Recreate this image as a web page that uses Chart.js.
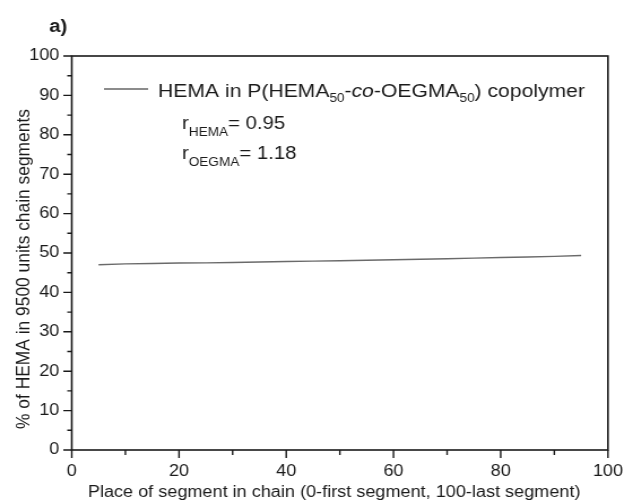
<!DOCTYPE html>
<html>
<head>
<meta charset="utf-8">
<script src="https://cdn.jsdelivr.net/npm/chart.js@4.4.1/dist/chart.umd.min.js"></script>
<style>
  html, body { margin: 0; padding: 0; background: #fff; overflow: hidden; }
  #wrap { position: absolute; left: 0; top: 0; width: 552px; height: 503px;
          transform: scaleX(1.1304); transform-origin: 0 0; }
  canvas { display: block; }
</style>
</head>
<body>
<div id="wrap"><canvas id="c" width="552" height="503"></canvas></div>
<script>
// ---- data ----
const segmentPlace = [5, 10, 15, 20, 25, 30, 35, 40, 45, 50, 55, 60, 65, 70, 75, 80, 85, 90, 95];
const hemaPercent  = [47.0, 47.25, 47.35, 47.45, 47.5, 47.6, 47.7, 47.85, 47.95, 48.05,
                      48.15, 48.3, 48.4, 48.55, 48.7, 48.85, 49.0, 49.15, 49.35];
const xTicks = [0, 20, 40, 60, 80, 100];
const yTicks = [0, 10, 20, 30, 40, 50, 60, 70, 80, 90, 100];
const xMinorTicks = [10, 30, 50, 70, 90];
const yMinorTicks = [5, 15, 25, 35, 45, 55, 65, 75, 85, 95];
const seriesLabel = 'HEMA in P(HEMA50-co-OEGMA50) copolymer';
const xTitle = 'Place of segment in chain (0-first segment, 100-last segment)';
const yTitle = '% of HEMA in 9500 units chain segments';
const panelLabel = 'a)';
const rHEMA = '0.95';
const rOEGMA = '1.18';

const FONT = '"Liberation Sans", Arial, Helvetica, sans-serif';
const INK = '#1a1a1a';

function drawRuns(ctx, x, y, runs) {
  ctx.textAlign = 'left';
  ctx.textBaseline = 'alphabetic';
  for (const r of runs) {
    ctx.font = r.font;
    ctx.fillText(r.t, x, y + (r.dy || 0));
    x += ctx.measureText(r.t).width;
  }
  return x;
}

const decor = {
  id: 'decor',
  afterDraw(chart) {
    const ctx = chart.ctx;
    const xs = chart.scales.x, ys = chart.scales.y;
    const L = xs.left, R = xs.right, T = ys.top, B = ys.bottom;
    ctx.save();
    ctx.strokeStyle = INK;
    ctx.fillStyle = INK;
    // frame
    ctx.lineWidth = 1.6;
    ctx.strokeRect(L, T, R - L, B - T);
    // tick marks (outward)
    ctx.lineWidth = 1.4;
    ctx.beginPath();
    for (const v of xTicks) { const p = xs.getPixelForValue(v); ctx.moveTo(p, B); ctx.lineTo(p, B + 8); }
    for (const v of xMinorTicks) { const p = xs.getPixelForValue(v); ctx.moveTo(p, B); ctx.lineTo(p, B + 5); }
    for (const v of yTicks) { const p = ys.getPixelForValue(v); ctx.moveTo(L, p); ctx.lineTo(L - 7.5, p); }
    for (const v of yMinorTicks) { const p = ys.getPixelForValue(v); ctx.moveTo(L, p); ctx.lineTo(L - 4, p); }
    ctx.stroke();

    // axis titles
    ctx.font = '16px ' + FONT;
    ctx.textAlign = 'center';
    ctx.textBaseline = 'alphabetic';
    ctx.fillText(xTitle, 295.6, 497);
    ctx.save();
    ctx.font = '17.4px ' + FONT;
    ctx.translate(25.5, 269);
    ctx.rotate(-Math.PI / 2);
    ctx.fillText(yTitle, 0, 0);
    ctx.restore();

    // panel label
    ctx.font = 'bold 18px ' + FONT;
    ctx.textAlign = 'left';
    ctx.fillText(panelLabel, 43.4, 32);

    // legend line
    ctx.strokeStyle = '#666';
    ctx.lineWidth = 1.3;
    ctx.beginPath();
    ctx.moveTo(92, 89); ctx.lineTo(131, 89);
    ctx.stroke();

    // legend text with subscripts
    const big = '18.7px ' + FONT, sub = '12px ' + FONT, it = 'italic 18.7px ' + FONT;
    drawRuns(ctx, 139.8, 97, [
      { t: 'HEMA in P(HEMA', font: big },
      { t: '50', font: sub, dy: 5 },
      { t: '-', font: big },
      { t: 'co', font: it },
      { t: '-OEGMA', font: big },
      { t: '50', font: sub, dy: 5 },
      { t: ') copolymer', font: big }
    ]);
    const rf = '18px ' + FONT;
    drawRuns(ctx, 161, 129, [
      { t: 'r', font: rf },
      { t: 'HEMA', font: sub, dy: 7 },
      { t: '= ' + rHEMA, font: rf }
    ]);
    drawRuns(ctx, 161, 159, [
      { t: 'r', font: rf },
      { t: 'OEGMA', font: sub, dy: 7 },
      { t: '= ' + rOEGMA, font: rf }
    ]);
    ctx.restore();
  }
};

new Chart(document.getElementById('c'), {
  type: 'line',
  data: {
    datasets: [{
      label: seriesLabel,
      data: segmentPlace.map((x, i) => ({ x: x, y: hemaPercent[i] })),
      borderColor: '#6a6a6a',
      borderWidth: 1.4,
      pointRadius: 0,
      tension: 0,
      fill: false
    }]
  },
  options: {
    responsive: false,
    animation: false,
    events: [],
    layout: { padding: { top: 56, right: 14.2, left: 0, bottom: 0 } },
    plugins: { legend: { display: false }, tooltip: { enabled: false }, title: { display: false } },
    scales: {
      x: {
        type: 'linear', min: 0, max: 100,
        afterBuildTicks: s => { s.ticks = xTicks.map(v => ({ value: v })); },
        afterFit: s => { s.height = 53; s.paddingLeft = 0; s.paddingRight = 0; },
        grid: { display: false, drawTicks: false },
        border: { display: false },
        ticks: { color: INK, padding: 12, maxRotation: 0, font: { family: FONT, size: 16 } }
      },
      y: {
        type: 'linear', min: 0, max: 100,
        afterBuildTicks: s => { s.ticks = yTicks.map(v => ({ value: v })); },
        afterFit: s => { s.width = 63.5; s.paddingTop = 0; s.paddingBottom = 0; },
        grid: { display: false, drawTicks: false },
        border: { display: false },
        ticks: { color: INK, padding: 11, font: { family: FONT, size: 16 } }
      }
    }
  },
  plugins: [decor]
});
</script>
</body>
</html>
